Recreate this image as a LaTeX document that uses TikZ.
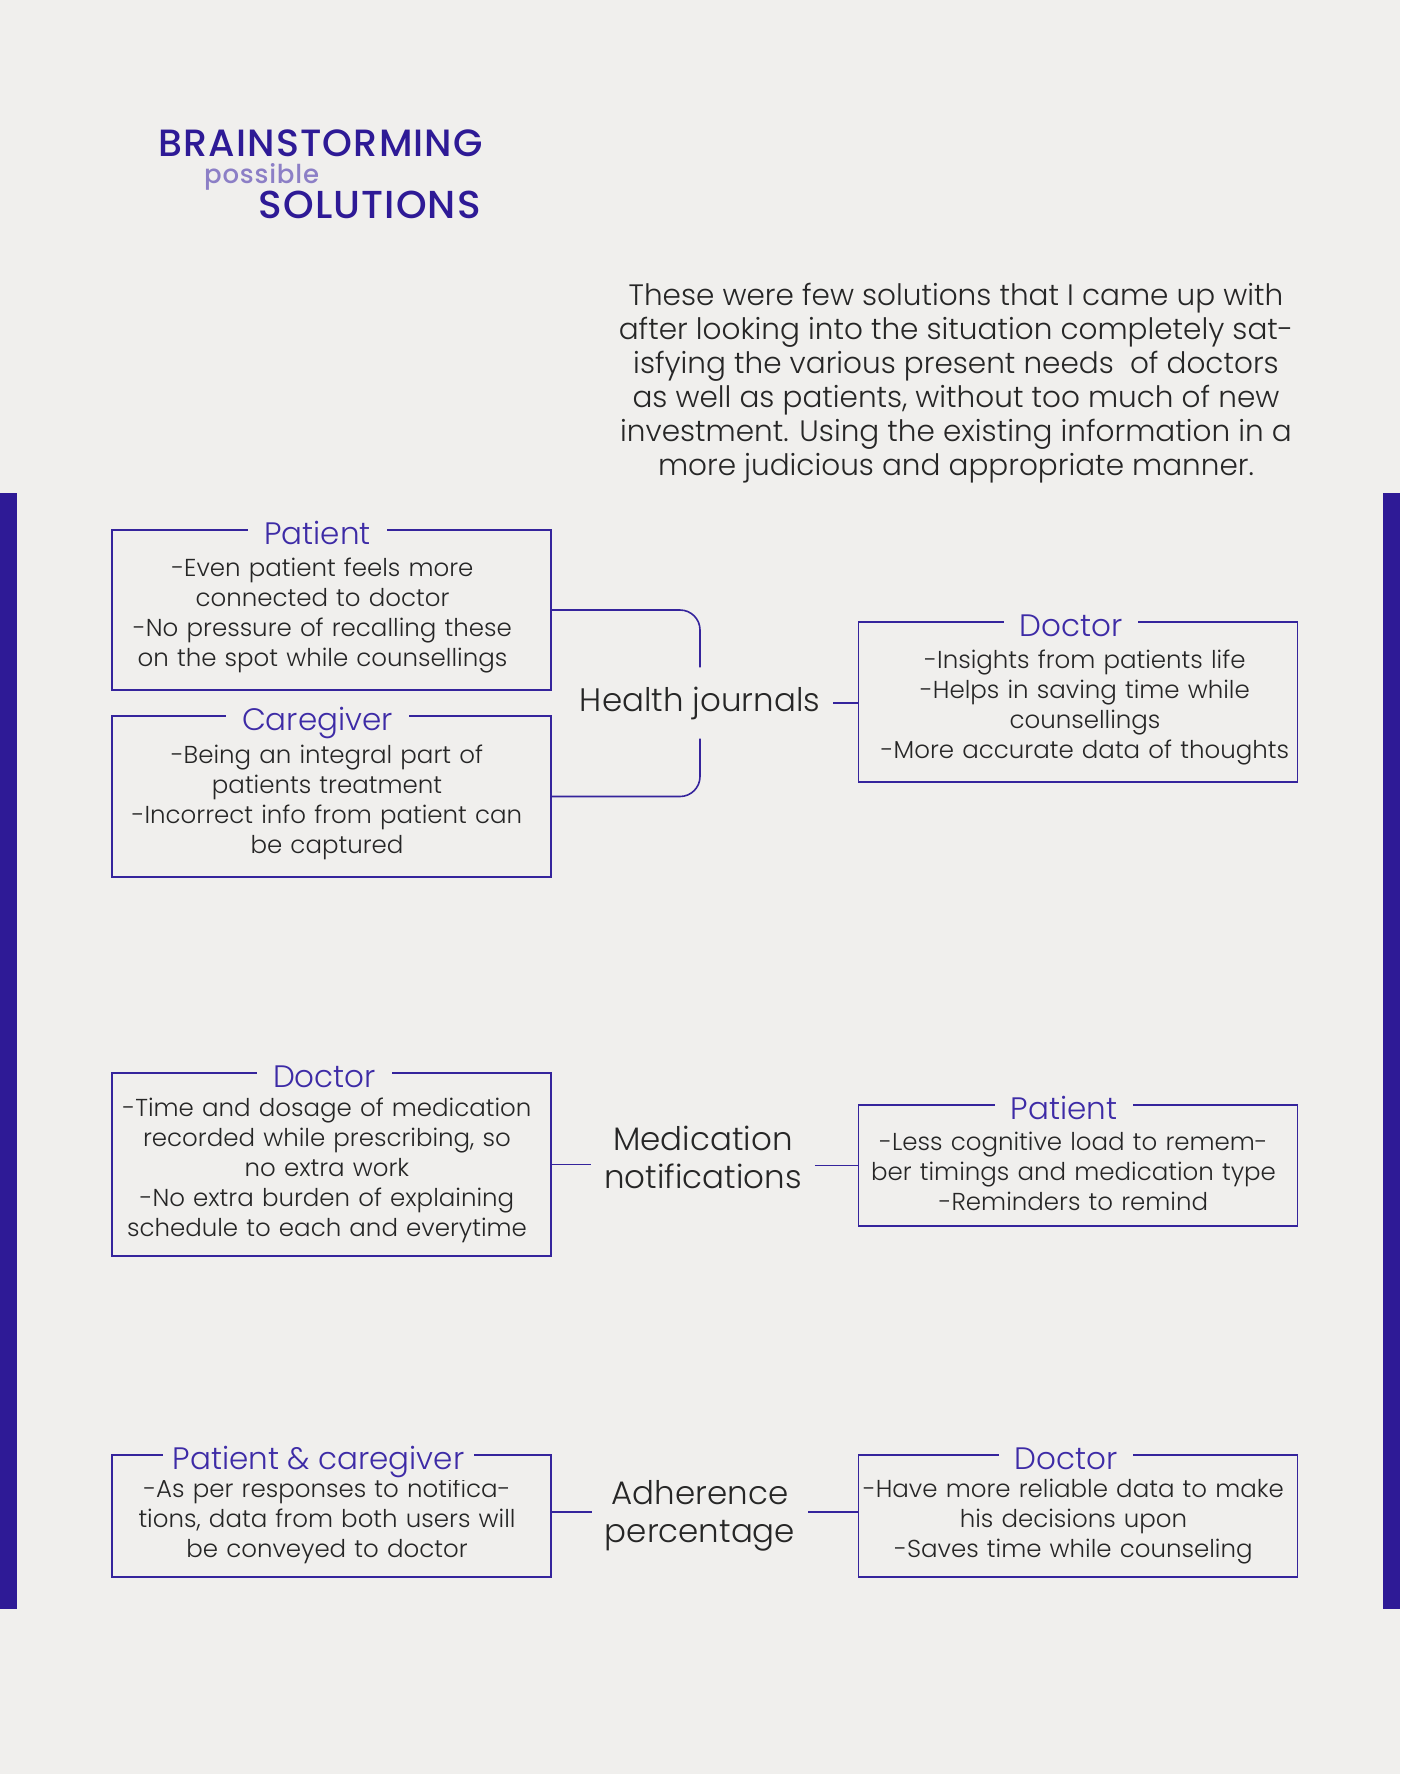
\documentclass[tikz,border=0pt]{standalone}
\usepackage{fontspec}
\IfFontExistsTF{Poppins Light}{\setmainfont{Poppins Light}}{\setmainfont{Poppins}}
\IfFontExistsTF{Poppins Medium}{\newfontfamily\headfont[LetterSpace=3]{Poppins Medium}}{\newfontfamily\headfont[LetterSpace=3]{Poppins}}
\usetikzlibrary{positioning}

\definecolor{paper}{HTML}{F0EFED}
\definecolor{inkpurple}{HTML}{2E1A96}
\definecolor{linepurple}{HTML}{35249C}
\definecolor{titlepurple}{HTML}{3D2BA6}
\definecolor{softpurple}{HTML}{8C7FC6}
\definecolor{inkgrey}{HTML}{262626}

\begin{document}
\begin{tikzpicture}[x=1pt,y=-1pt,
    card/.style={draw=linepurple, line width=1.6pt, text width=439pt, inner xsep=0pt,
        align=center, font=\fontsize{24.5}{30}\selectfont, text=inkgrey,
        execute at begin node={\rule{0pt}{30pt}\advance\leftskip by #1}},
    card/.default=-9pt,
    cardtitle/.style={fill=paper, inner xsep=16pt, inner ysep=2pt, anchor=base,
        font=\fontsize{31}{32}\selectfont, text=titlepurple},
    topic/.style={align=center, inner xsep=13pt, inner ysep=19pt,
        font=\fontsize{32.5}{38}\selectfont, text=inkgrey},
    link/.style={draw=linepurple, line width=1.6pt}]

    % Page and side bars
    \fill[paper] (0,0) rectangle (1400,1774);
    \useasboundingbox (0,0) rectangle (1400,1774);
    \fill[inkpurple] (0,493) rectangle (17,1609);
    \fill[inkpurple] (1383,493) rectangle (1400,1609);

    % Heading
    \node[anchor=base east, inner sep=0pt, text=inkpurple, font=\headfont\fontsize{38}{38}\selectfont] (brain) at (483,156) {BRAINSTORMING};
    \node[anchor=base west, inner sep=0pt, text=softpurple, font=\headfont\fontsize{26}{26}\selectfont] (possible) at (204,183) {possible};
    \node[anchor=base east, inner sep=0pt, text=inkpurple, font=\headfont\fontsize{39}{39}\selectfont] (solutions) at (481,218) {SOLUTIONS};

    % Intro text
    \node[align=center, text=inkgrey, font=\fontsize{29.5}{34}\selectfont] (intro) at (956,383)
        {These were few solutions that I came up with\\
         after looking into the situation completely sat-\\
         isfying the various present needs~ of doctors\\
         as well as patients, without too much of new\\
         investment. Using the existing information in a\\
         more judicious and appropriate manner.};

    % Health journals
    \node[card=-18pt, minimum height=160pt] (patA) at (331.5,610)
        {-Even patient feels more\\connected to doctor\\-No pressure of recalling these\\on the spot while counsellings};
    \node[card, minimum height=161pt] (careA) at (331.5,796.5)
        {-Being an integral part of\\patients treatment\\-Incorrect info from patient can\\be captured};
    \node[topic] (health) at (700,703) {Health journals};
    \node[card=14pt, minimum height=160pt] (docA) at (1078,702)
        {-Insights from patients life\\-Helps in saving time while\\counsellings\\-More accurate data of thoughts};
    \node[cardtitle] (patAt) at ([xshift=-14pt,yshift=-15pt]patA.north) {Patient};
    \node[cardtitle] (careAt) at ([xshift=-14pt,yshift=-15pt]careA.north) {Caregiver};
    \node[cardtitle] (docAt) at ([xshift=-7pt,yshift=-15pt]docA.north) {Doctor};
    \draw[link, rounded corners=20pt] (patA.east) -| (health.north);
    \draw[link, rounded corners=20pt] (careA.east) -| (health.south);
    \draw[link] (health.east) -- (health.east -| docA.west);

    % Medication notifications
    \node[card, minimum height=183pt] (docB) at (331.5,1164.5)
        {-Time and dosage of medication\\recorded while prescribing, so\\no extra work\\-No extra burden of explaining\\schedule to each and everytime};
    \node[topic] (meds) at (703,1157) {Medication\\notifications};
    \node[card, minimum height=121pt] (patB) at (1078,1165.5)
        {-Less cognitive load to remem-\\ber timings and medication type\\-Reminders to remind};
    \node[cardtitle] (docBt) at ([xshift=-7pt,yshift=-15pt]docB.north) {Doctor};
    \node[cardtitle] (patBt) at ([xshift=-14pt,yshift=-15pt]patB.north) {Patient};
    \draw[link] (docB.east) -- (docB.east -| meds.west);
    \draw[link] (meds.east |- patB.west) -- (patB.west);

    % Adherence percentage
    \node[card, minimum height=122pt] (bothC) at (331.5,1516)
        {-As per responses to notifica-\\tions, data from both users will\\be conveyed to doctor};
    \node[topic] (adher) at (700,1516) {Adherence\\percentage};
    \node[card, minimum height=122pt] (docC) at (1078,1516)
        {-Have more reliable data to make\\his decisions upon\\-Saves time while counseling};
    \node[cardtitle, inner xsep=10pt] (bothCt) at ([xshift=-13pt,yshift=-15pt]bothC.north) {Patient \& caregiver};
    \node[cardtitle] (docCt) at ([xshift=-12pt,yshift=-15pt]docC.north) {Doctor};
    \draw[link] ([yshift=4pt]bothC.east) -- ([yshift=4pt]bothC.east -| adher.west);
    \draw[link] ([yshift=4pt]adher.east |- docC.west) -- ([yshift=4pt]docC.west);
\end{tikzpicture}
\end{document}
